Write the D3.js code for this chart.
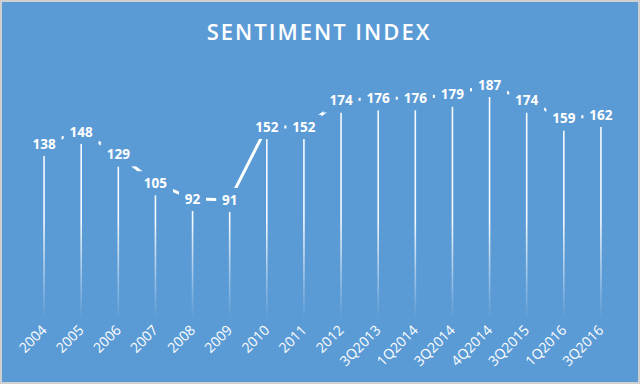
<!DOCTYPE html>
<html lang="en">
<head>
<meta charset="utf-8" />
<script src="https://cdnjs.cloudflare.com/ajax/libs/d3/7.8.5/d3.min.js"></script>
<style>
  html, body { margin: 0; padding: 0; background: #fff; }
  svg { display: block; }
</style>
<title>Sentiment Index</title>
</head>
<body>
<div id="chart"></div>
<script>
const categories = ['2004', '2005', '2006', '2007', '2008', '2009', '2010', '2011', '2012',
    '3Q2013', '1Q2014', '3Q2014', '4Q2014', '3Q2015', '1Q2016', '3Q2016'];
const sentiment = [138, 148, 129, 105, 92, 91, 152, 152, 174, 176, 176, 179, 187, 174, 159, 162];

const width = 640;
const height = 384;
const bg = '#5b9bd5';

const svg = d3.select('#chart')
    .append('svg')
    .attr('width', width)
    .attr('height', height);

// background + thin grey frame
svg.append('rect')
    .attr('x', 1).attr('y', 1)
    .attr('width', width - 2).attr('height', height - 2)
    .attr('fill', bg)
    .attr('stroke', '#d0d0d0')
    .attr('stroke-width', 2);

// title
svg.append('text')
    .attr('x', 319)
    .attr('y', 40)
    .attr('text-anchor', 'middle')
    .attr('fill', '#fff')
    .style('font-family', 'Open Sans, sans-serif')
    .style('font-weight', 600)
    .style('font-size', '22px')
    .style('letter-spacing', '2px')
    .text('SENTIMENT INDEX');

const x = d3.scalePoint()
    .domain(categories)
    .range([25.5, 619.5])
    .padding(0.5);

const y = d3.scaleLinear()
    .domain([0, 200])
    .range([321, 81.4]);

const data = categories.map((c, i) => ({ cat: c, v: sentiment[i] }));

// fading drop lines
const grad = svg.append('defs').append('linearGradient')
    .attr('id', 'fade')
    .attr('gradientUnits', 'userSpaceOnUse')
    .attr('x1', 0).attr('x2', 0)
    .attr('y1', 220).attr('y2', 318);
grad.append('stop').attr('offset', 0).attr('stop-color', '#fff').attr('stop-opacity', 0.95);
grad.append('stop').attr('offset', 1).attr('stop-color', '#fff').attr('stop-opacity', 0);

svg.append('g')
    .selectAll('line')
    .data(data)
    .join('line')
    .attr('x1', d => x(d.cat))
    .attr('x2', d => x(d.cat))
    .attr('y1', d => y(d.v))
    .attr('y2', 318)
    .attr('stroke', 'url(#fade)')
    .attr('stroke-width', 1.6);

// line runs through the label centres
const lift = 12;
const line = d3.line()
    .x(d => x(d.cat))
    .y(d => y(d.v) - lift);

svg.append('path')
    .datum(data)
    .attr('d', line)
    .attr('fill', 'none')
    .attr('stroke', '#fff')
    .attr('stroke-width', 3);

// data labels with background boxes hiding the line
const labels = svg.append('g')
    .selectAll('g')
    .data(data)
    .join('g')
    .attr('transform', d => `translate(${x(d.cat)},${y(d.v) - lift})`);

labels.append('rect')
    .attr('x', d => -(String(d.v).length * 4 + 5.5))
    .attr('y', -12)
    .attr('width', d => String(d.v).length * 8 + 11)
    .attr('height', 24)
    .attr('fill', bg);

labels.append('text')
    .attr('text-anchor', 'middle')
    .attr('dy', '0.36em')
    .attr('fill', '#fff')
    .style('font-family', 'Open Sans, sans-serif')
    .style('font-weight', 700)
    .style('font-size', '13.5px')
    .text(d => d.v);

// rotated category labels
svg.append('g')
    .selectAll('text')
    .data(categories)
    .join('text')
    .attr('transform', d => `translate(${x(d) + 3.5},${331}) rotate(-45)`)
    .attr('text-anchor', 'end')
    .attr('fill', '#fff')
    .style('font-family', 'Open Sans, sans-serif')
    .style('font-size', '14px')
    .text(d => d);
</script>
</body>
</html>
